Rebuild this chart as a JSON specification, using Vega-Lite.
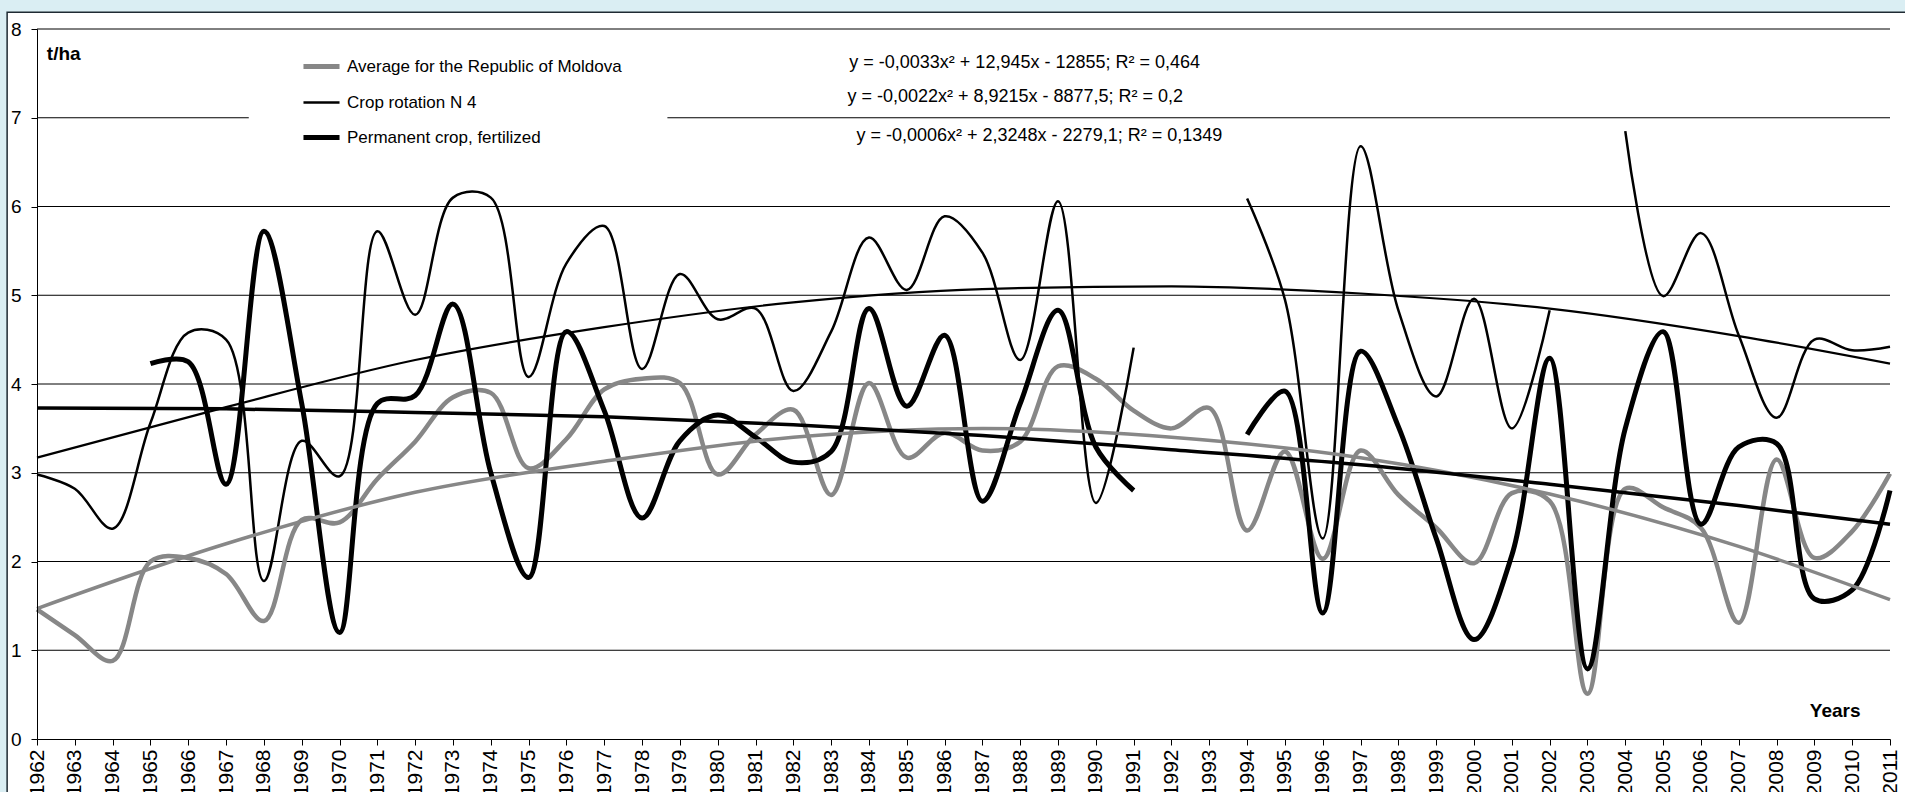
{
  "$schema": "https://vega.github.io/schema/vega-lite/v6.json",
  "width": 1853,
  "height": 710,
  "autosize": {"type": "none"},
  "padding": {"left": 37, "top": 29, "right": 15, "bottom": 53},
  "background": "#DAEEF3",
  "config": {
    "view": {"stroke": null},
    "font": "Liberation Sans",
    "axis": {"labelOverlap": false},
    "axisX": {"labelFontSize": 21, "labelColor": "#000", "labelPadding": 4, "tickSize": 6, "tickColor": "#000", "domainColor": "#000", "domainWidth": 1, "grid": false, "labelAngle": 270, "labelOverlap": false, "labelFlush": false, "labelBound": false, "labelFont": "Liberation Sans"},
    "axisY": {"labelFontSize": 19, "labelColor": "#000", "labelPadding": 10, "tickSize": 6, "tickColor": "#000", "domainColor": "#000", "domainWidth": 1, "grid": false, "labelFont": "Liberation Sans"}
  },
  "datasets": {
    "obs": [
      {"year": 1962, "avg": 1.46, "crop": 2.98, "perm": null},
      {"year": 1963, "avg": 1.17, "crop": 2.82, "perm": null},
      {"year": 1964, "avg": 0.88, "crop": 2.37, "perm": null},
      {"year": 1965, "avg": 2.0, "crop": 3.56, "perm": 4.23},
      {"year": 1966, "avg": 2.04, "crop": 4.58, "perm": 4.25},
      {"year": 1967, "avg": 1.86, "crop": 4.5, "perm": 2.87},
      {"year": 1968, "avg": 1.33, "crop": 1.78, "perm": 5.72},
      {"year": 1969, "avg": 2.47, "crop": 3.36, "perm": 3.78},
      {"year": 1970, "avg": 2.44, "crop": 2.96, "perm": 1.2},
      {"year": 1971, "avg": 2.93, "crop": 5.72, "perm": 3.78},
      {"year": 1972, "avg": 3.35, "crop": 4.78, "perm": 3.87},
      {"year": 1973, "avg": 3.85, "crop": 6.1, "perm": 4.9},
      {"year": 1974, "avg": 3.9, "crop": 6.1, "perm": 3.0},
      {"year": 1975, "avg": 3.05, "crop": 4.08, "perm": 1.82},
      {"year": 1976, "avg": 3.38, "crop": 5.36, "perm": 4.59},
      {"year": 1977, "avg": 3.94, "crop": 5.78, "perm": 3.7},
      {"year": 1978, "avg": 4.06, "crop": 4.17, "perm": 2.49},
      {"year": 1979, "avg": 4.01, "crop": 5.24, "perm": 3.36},
      {"year": 1980, "avg": 2.98, "crop": 4.73, "perm": 3.65},
      {"year": 1981, "avg": 3.43, "crop": 4.85, "perm": 3.4},
      {"year": 1982, "avg": 3.71, "crop": 3.92, "perm": 3.12},
      {"year": 1983, "avg": 2.75, "crop": 4.59, "perm": 3.24},
      {"year": 1984, "avg": 4.01, "crop": 5.65, "perm": 4.85},
      {"year": 1985, "avg": 3.17, "crop": 5.06, "perm": 3.75},
      {"year": 1986, "avg": 3.45, "crop": 5.89, "perm": 4.55},
      {"year": 1987, "avg": 3.25, "crop": 5.48, "perm": 2.68},
      {"year": 1988, "avg": 3.35, "crop": 4.27, "perm": 3.78},
      {"year": 1989, "avg": 4.2, "crop": 6.06, "perm": 4.83},
      {"year": 1990, "avg": 4.06, "crop": 2.66, "perm": 3.29},
      {"year": 1991, "avg": 3.7, "crop": 4.41, "perm": 2.8},
      {"year": 1992, "avg": 3.5, "crop": null, "perm": null},
      {"year": 1993, "avg": 3.73, "crop": null, "perm": null},
      {"year": 1994, "avg": 2.35, "crop": 6.09, "perm": 3.43},
      {"year": 1995, "avg": 3.24, "crop": 4.95, "perm": 3.92},
      {"year": 1996, "avg": 2.03, "crop": 2.26, "perm": 1.42},
      {"year": 1997, "avg": 3.25, "crop": 6.68, "perm": 4.37},
      {"year": 1998, "avg": 2.75, "crop": 4.83, "perm": 3.52},
      {"year": 1999, "avg": 2.38, "crop": 3.86, "perm": 2.26},
      {"year": 2000, "avg": 1.98, "crop": 4.96, "perm": 1.12},
      {"year": 2001, "avg": 2.77, "crop": 3.5, "perm": 2.07},
      {"year": 2002, "avg": 2.68, "crop": 4.83, "perm": 4.29},
      {"year": 2003, "avg": 0.51, "crop": null, "perm": 0.79},
      {"year": 2004, "avg": 2.82, "crop": 6.85, "perm": 3.5},
      {"year": 2005, "avg": 2.61, "crop": 4.99, "perm": 4.59},
      {"year": 2006, "avg": 2.38, "crop": 5.7, "perm": 2.42},
      {"year": 2007, "avg": 1.31, "crop": 4.55, "perm": 3.29},
      {"year": 2008, "avg": 3.15, "crop": 3.62, "perm": 3.33},
      {"year": 2009, "avg": 2.04, "crop": 4.5, "perm": 1.58},
      {"year": 2010, "avg": 2.34, "crop": 4.38, "perm": 1.68},
      {"year": 2011, "avg": 2.99, "crop": 4.42, "perm": 2.8}
    ],
    "trend": [
      {"year": 1962, "avgT": 1.47, "cropT": 3.17, "permT": 3.73},
      {"year": 1967, "avgT": 2.2, "cropT": 3.74, "permT": 3.72},
      {"year": 1972, "avgT": 2.78, "cropT": 4.27, "permT": 3.68},
      {"year": 1977, "avgT": 3.13, "cropT": 4.64, "permT": 3.63},
      {"year": 1982, "avgT": 3.4, "cropT": 4.92, "permT": 3.54},
      {"year": 1987, "avgT": 3.5, "cropT": 5.07, "permT": 3.42},
      {"year": 1992, "avgT": 3.4, "cropT": 5.1, "permT": 3.26},
      {"year": 1997, "avgT": 3.17, "cropT": 5.02, "permT": 3.09},
      {"year": 2002, "avgT": 2.76, "cropT": 4.85, "permT": 2.87},
      {"year": 2007, "avgT": 2.17, "cropT": 4.54, "permT": 2.63},
      {"year": 2011, "avgT": 1.57, "cropT": 4.23, "permT": 2.42}
    ],
    "grid": [{"v": 1}, {"v": 2}, {"v": 3}, {"v": 4}, {"v": 5}, {"v": 6}, {"v": 7}, {"v": 8}],
    "one": [{}]
  },
  "layer": [
    {
      "data": {"name": "one"},
      "mark": {"type": "rect", "fill": "#ffffff", "stroke": "#1e2a32", "strokeWidth": 1.5, "clip": false},
      "encoding": {
        "x": {"datum": 1961.21, "type": "quantitative", "scale": {"domain": [1962, 2011], "nice": false, "zero": false}, "axis": {"title": null, "format": "d", "zindex": 1, "labelOverlap": false, "labelFlush": false, "labelAngle": 270, "tickCount": 50, "values": [1962,1963,1964,1965,1966,1967,1968,1969,1970,1971,1972,1973,1974,1975,1976,1977,1978,1979,1980,1981,1982,1983,1984,1985,1986,1987,1988,1989,1990,1991,1992,1993,1994,1995,1996,1997,1998,1999,2000,2001,2002,2003,2004,2005,2006,2007,2008,2009,2010,2011]}},
        "x2": {"datum": 2014},
        "y": {"datum": 8.19, "type": "quantitative", "scale": {"domain": [0, 8], "nice": false, "zero": true}, "axis": {"title": null, "format": "d", "zindex": 1, "labelOverlap": false, "values": [0,1,2,3,4,5,6,7,8]}},
        "y2": {"datum": -1}
      }
    },
    {
      "data": {"name": "grid"},
      "mark": {"type": "rule", "color": "#000000", "strokeWidth": 1},
      "encoding": {
        "y": {"field": "v", "type": "quantitative", "scale": {"domain": [0, 8], "nice": false, "zero": true}, "axis": {"title": null, "format": "d", "zindex": 1, "labelOverlap": false, "values": [0,1,2,3,4,5,6,7,8]}}
      }
    },
    {
      "data": {"name": "one"},
      "mark": {"type": "rect", "fill": "#ffffff", "clip": false},
      "encoding": {
        "x": {"datum": 1967.6, "type": "quantitative", "scale": {"domain": [1962, 2011], "nice": false, "zero": false}, "axis": {"title": null, "format": "d", "zindex": 1, "labelOverlap": false, "labelFlush": false, "labelAngle": 270, "tickCount": 50, "values": [1962,1963,1964,1965,1966,1967,1968,1969,1970,1971,1972,1973,1974,1975,1976,1977,1978,1979,1980,1981,1982,1983,1984,1985,1986,1987,1988,1989,1990,1991,1992,1993,1994,1995,1996,1997,1998,1999,2000,2001,2002,2003,2004,2005,2006,2007,2008,2009,2010,2011]}},
        "x2": {"datum": 1978.67},
        "y": {"datum": 7.3, "type": "quantitative", "scale": {"domain": [0, 8], "nice": false, "zero": true}, "axis": {"title": null, "format": "d", "zindex": 1, "labelOverlap": false, "values": [0,1,2,3,4,5,6,7,8]}},
        "y2": {"datum": 6.75}
      }
    },
    {
      "data": {"name": "obs"},
      "mark": {"type": "line", "interpolate": "catmull-rom", "strokeWidth": 4.5, "strokeJoin": "round", "invalid": "break-paths-show-domains"},
      "encoding": {
        "x": {"field": "year", "type": "quantitative", "scale": {"domain": [1962, 2011], "nice": false, "zero": false}, "axis": {"title": null, "format": "d", "zindex": 1, "labelOverlap": false, "labelFlush": false, "labelAngle": 270, "tickCount": 50, "values": [1962,1963,1964,1965,1966,1967,1968,1969,1970,1971,1972,1973,1974,1975,1976,1977,1978,1979,1980,1981,1982,1983,1984,1985,1986,1987,1988,1989,1990,1991,1992,1993,1994,1995,1996,1997,1998,1999,2000,2001,2002,2003,2004,2005,2006,2007,2008,2009,2010,2011]}},
        "y": {"field": "avg", "type": "quantitative", "scale": {"domain": [0, 8], "nice": false, "zero": true}, "axis": {"title": null, "format": "d", "zindex": 1, "labelOverlap": false, "values": [0,1,2,3,4,5,6,7,8]}},
        "color": {"datum": "Average for the Republic of Moldova", "type": "nominal",
          "scale": {"domain": ["Average for the Republic of Moldova", "Crop rotation N 4", "Permanent crop, fertilized"], "range": ["#878787", "#000000", "#000000"]},
          "legend": {"title": null, "orient": "none", "direction": "vertical", "legendX": 276, "legendY": 29, "symbolType": "stroke", "symbolSize": 1300, "symbolStrokeWidth": 5, "labelFontSize": 17, "labelLimit": 500, "labelColor": "#000", "labelFont": "Liberation Sans", "rowPadding": 16, "labelOffset": 17, "padding": 0,
            "encode": {"symbols": {"update": {"strokeWidth": {"signal": "datum.value === 'Crop rotation N 4' ? 2.5 : 5"}}}}}
        }
      }
    },
    {
      "data": {"name": "obs"},
      "mark": {"type": "line", "interpolate": "catmull-rom", "strokeWidth": 2.5, "strokeJoin": "round", "invalid": "break-paths-show-domains"},
      "encoding": {
        "x": {"field": "year", "type": "quantitative", "scale": {"domain": [1962, 2011], "nice": false, "zero": false}},
        "y": {"field": "crop", "type": "quantitative", "scale": {"domain": [0, 8], "nice": false, "zero": true}},
        "color": {"datum": "Crop rotation N 4", "type": "nominal"}
      }
    },
    {
      "data": {"name": "obs"},
      "mark": {"type": "line", "interpolate": "catmull-rom", "strokeWidth": 5, "strokeJoin": "round", "invalid": "break-paths-show-domains"},
      "encoding": {
        "x": {"field": "year", "type": "quantitative", "scale": {"domain": [1962, 2011], "nice": false, "zero": false}},
        "y": {"field": "perm", "type": "quantitative", "scale": {"domain": [0, 8], "nice": false, "zero": true}},
        "color": {"datum": "Permanent crop, fertilized", "type": "nominal"}
      }
    },
    {
      "data": {"name": "trend"},
      "mark": {"type": "line", "interpolate": "monotone", "strokeWidth": 3.5, "color": "#878787"},
      "encoding": {
        "x": {"field": "year", "type": "quantitative", "scale": {"domain": [1962, 2011], "nice": false, "zero": false}},
        "y": {"field": "avgT", "type": "quantitative", "scale": {"domain": [0, 8], "nice": false, "zero": true}}
      }
    },
    {
      "data": {"name": "trend"},
      "mark": {"type": "line", "interpolate": "monotone", "strokeWidth": 2.2, "color": "#000000"},
      "encoding": {
        "x": {"field": "year", "type": "quantitative", "scale": {"domain": [1962, 2011], "nice": false, "zero": false}},
        "y": {"field": "cropT", "type": "quantitative", "scale": {"domain": [0, 8], "nice": false, "zero": true}}
      }
    },
    {
      "data": {"name": "trend"},
      "mark": {"type": "line", "interpolate": "monotone", "strokeWidth": 3.5, "color": "#000000"},
      "encoding": {
        "x": {"field": "year", "type": "quantitative", "scale": {"domain": [1962, 2011], "nice": false, "zero": false}},
        "y": {"field": "permT", "type": "quantitative", "scale": {"domain": [0, 8], "nice": false, "zero": true}}
      }
    },
    {
      "data": {"name": "one"},
      "mark": {"type": "text", "text": "t/ha", "fontSize": 19, "fontWeight": "bold", "align": "left", "baseline": "middle", "color": "#000"},
      "encoding": {
        "x": {"datum": 1962.26, "type": "quantitative", "scale": {"domain": [1962, 2011], "nice": false, "zero": false}},
        "y": {"datum": 7.718, "type": "quantitative", "scale": {"domain": [0, 8], "nice": false, "zero": true}}
      }
    },
    {
      "data": {"name": "one"},
      "mark": {"type": "text", "text": "Years", "fontSize": 19, "fontWeight": "bold", "align": "center", "baseline": "middle", "color": "#000"},
      "encoding": {
        "x": {"datum": 2009.55, "type": "quantitative", "scale": {"domain": [1962, 2011], "nice": false, "zero": false}},
        "y": {"datum": 0.315, "type": "quantitative", "scale": {"domain": [0, 8], "nice": false, "zero": true}}
      }
    },
    {
      "data": {"name": "one"},
      "mark": {"type": "text", "text": "y = -0,0033x² + 12,945x - 12855; R² = 0,464", "fontSize": 18, "align": "left", "baseline": "middle", "color": "#000"},
      "encoding": {
        "x": {"datum": 1983.48, "type": "quantitative", "scale": {"domain": [1962, 2011], "nice": false, "zero": false}},
        "y": {"datum": 7.617, "type": "quantitative", "scale": {"domain": [0, 8], "nice": false, "zero": true}}
      }
    },
    {
      "data": {"name": "one"},
      "mark": {"type": "text", "text": "y = -0,0022x² + 8,9215x - 8877,5; R² = 0,2", "fontSize": 18, "align": "left", "baseline": "middle", "color": "#000"},
      "encoding": {
        "x": {"datum": 1983.43, "type": "quantitative", "scale": {"domain": [1962, 2011], "nice": false, "zero": false}},
        "y": {"datum": 7.234, "type": "quantitative", "scale": {"domain": [0, 8], "nice": false, "zero": true}}
      }
    },
    {
      "data": {"name": "one"},
      "mark": {"type": "text", "text": "y = -0,0006x² + 2,3248x - 2279,1; R² = 0,1349", "fontSize": 18, "align": "left", "baseline": "middle", "color": "#000"},
      "encoding": {
        "x": {"datum": 1983.67, "type": "quantitative", "scale": {"domain": [1962, 2011], "nice": false, "zero": false}},
        "y": {"datum": 6.794, "type": "quantitative", "scale": {"domain": [0, 8], "nice": false, "zero": true}}
      }
    }
  ]
}
